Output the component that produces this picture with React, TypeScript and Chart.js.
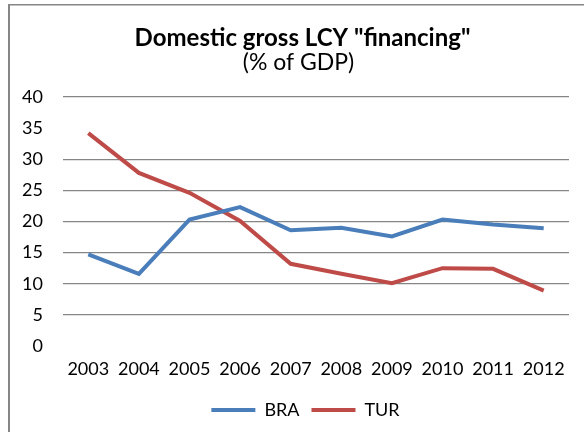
import React, { useEffect, useRef } from "react";
import { Chart, registerables } from "chart.js";

Chart.register(...registerables);

const years = ["2003", "2004", "2005", "2006", "2007", "2008", "2009", "2010", "2011", "2012"];
const bra = [14.7, 11.6, 20.3, 22.3, 18.6, 19.0, 17.6, 20.3, 19.5, 18.9];
const tur = [34.2, 27.8, 24.6, 20.1, 13.2, 11.6, 10.1, 12.5, 12.4, 8.9];
const titleText = 'Domestic gross LCY "financing"';
const subtitleText = "(% of GDP)";

const FONT = "Lato, 'Open Sans', sans-serif";

const frame = {
  id: "frame",
  afterLayout(chart: any) {
    if (chart.legend) {
      chart.legend.left += 42;
      chart.legend.top -= 3;
    }
    for (const b of chart.boxes) {
      const t = b && b.options && b.options.text;
      if (t === titleText) b.left += 36;
      else if (t === subtitleText) b.left += 28;
    }
  },
  beforeDraw(chart: any) {
    const ctx = chart.ctx;
    ctx.save();
    ctx.fillStyle = "#fff";
    ctx.fillRect(0, 0, chart.width, chart.height);
    ctx.fillStyle = "#868686";
    ctx.fillRect(8, 4, chart.width - 8, 1.5);
    ctx.fillRect(8, 4, 2, chart.height - 4);
    ctx.restore();
  },
};

export default function App() {
  const ref = useRef<HTMLCanvasElement>(null);
  useEffect(() => {
    document.body.style.margin = "0";
    const chart = new Chart(ref.current as HTMLCanvasElement, {
      type: "line",
      data: {
        labels: years,
        datasets: [
          { label: "BRA", data: bra, borderColor: "#4A7EBB", backgroundColor: "#4A7EBB", borderWidth: 4, pointRadius: 0, tension: 0 },
          { label: "TUR", data: tur, borderColor: "#BE4B48", backgroundColor: "#BE4B48", borderWidth: 4, pointRadius: 0, tension: 0 },
        ],
      },
      options: {
        responsive: false,
        animation: false,
        layout: { padding: { left: 0, right: 15, top: 0, bottom: 0 } },
        scales: {
          x: {
            offset: true,
            grid: { display: false, drawTicks: false },
            border: { display: false },
            ticks: { color: "#000", font: { family: FONT, size: 18, lineHeight: 1 }, padding: 14, maxRotation: 0, autoSkip: false },
          },
          y: {
            min: 0,
            max: 40,
            afterFit: (s: any) => { s.width = 63; },
            grid: {
              drawTicks: false,
              color: (c: any) => (c.tick && (c.tick.value === 35 || c.tick.value === 0) ? "rgba(0,0,0,0)" : "#868686"),
              lineWidth: 1.3,
            },
            border: { display: false },
            ticks: { stepSize: 5, color: "#000", font: { family: FONT, size: 18 }, padding: 20 },
          },
        },
        plugins: {
          title: {
            display: true,
            text: titleText,
            color: "#000",
            font: { family: FONT, size: 24, weight: "bold", lineHeight: 1 },
            padding: { top: 26, bottom: 0 },
          },
          subtitle: {
            display: true,
            text: subtitleText,
            color: "#000",
            font: { family: FONT, size: 23, weight: "normal", lineHeight: 1 },
            padding: { top: 1, bottom: 23 },
          },
          legend: {
            position: "bottom",
            labels: {
              color: "#000",
              font: { family: FONT, size: 18 },
              boxWidth: 44,
              boxHeight: 4,
              padding: 12,
              generateLabels: (c: any) =>
                (Chart.defaults.plugins.legend.labels.generateLabels as any)(c).map((l: any) => ({ ...l, lineWidth: 0 })),
            },
          },
          tooltip: { enabled: false },
        },
      },
      plugins: [frame],
    });
    return () => chart.destroy();
  }, []);
  return <canvas ref={ref} width={584} height={432} style={{ display: "block" }} />;
}
